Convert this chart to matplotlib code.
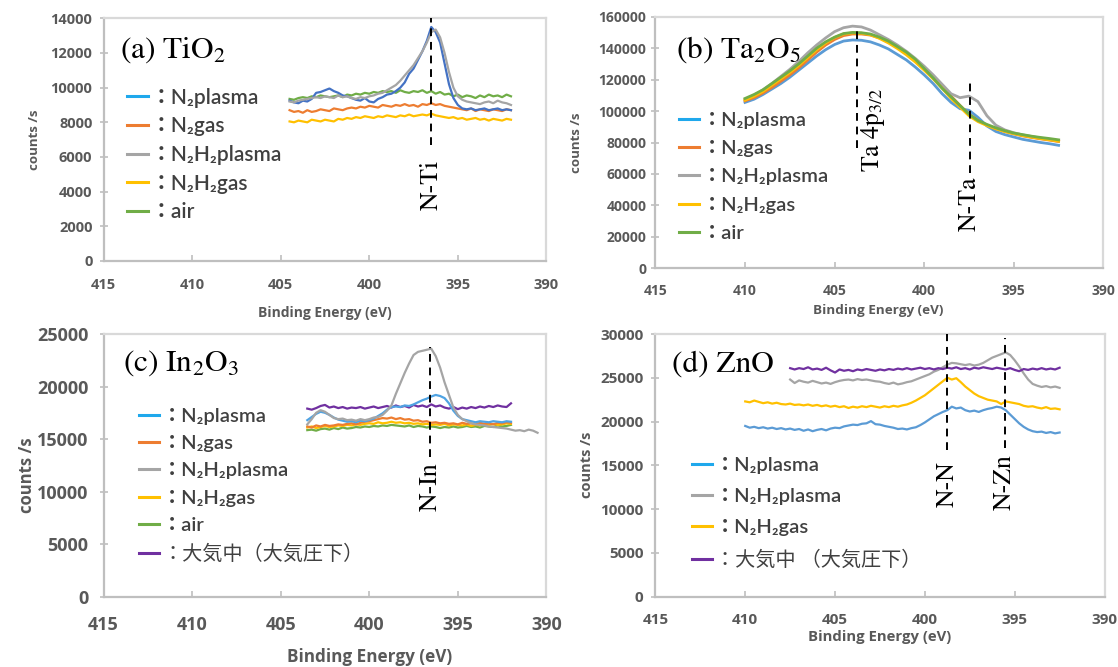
import numpy as np
import matplotlib
matplotlib.use("Agg")
import matplotlib.pyplot as plt
from matplotlib.lines import Line2D

plt.rcParams["mathtext.fontset"] = "stix"
SANS = ["Open Sans", "Noto Sans CJK JP", "DejaVu Sans"]
LEG_FONT = ["Lato", "Noto Sans CJK JP", "DejaVu Sans"]

W, H = 1118, 667

# colours (Excel defaults)
BLUE = "#5B9BD5"
ORANGE = "#ED7D31"
GRAY = "#A5A5A5"
YELLOW = "#FFC000"
GREEN = "#70AD47"
PURPLE = "#7030A0"
LEG_BLUE = "#1FA8EC"

labels = {
    "n2p": "：N₂plasma",
    "n2g": "：N₂gas",
    "nhp": "：N₂H₂plasma",
    "nhg": "：N₂H₂gas",
    "air": "：air",
    "atm_c": "：大気中（大気圧下）",
    "atm_d": "：大気中 （大気圧下）",
}

# ---------------- (a) TiO2, 404.5 -> 392.0 eV ----------------
a_range = (404.5, 392.0)
a_n2plasma = [9250, 9150, 9100, 9250, 9200, 9350, 9700, 9750, 9850, 9950, 9800,
              9700, 9550, 9500, 9400, 9300, 9250, 9400, 9200, 9150, 9350, 9450,
              9600, 9650, 9800, 10000, 10300, 10800, 11100, 11600, 12100, 12700,
              13500, 13200, 12600, 11400, 10200, 9400, 9000, 8800, 8750, 8800,
              8700, 8750, 8800, 8700, 8750, 8800, 8700, 8750, 8700]
a_n2gas = [8700, 8600, 8650, 8550, 8700, 8600, 8650, 8750, 8700, 8650, 8800, 8750,
           8700, 8800, 8850, 8800, 8900, 8850, 8950, 8900, 8850, 9000, 8950, 8900,
           9000, 8950, 9050, 8950, 9000, 8900, 9050, 9000, 9100, 9000, 9050, 8950,
           8900, 8850, 8800, 8750, 8700, 8800, 8650, 8750, 8700, 8650, 8750, 8700,
           8650, 8750, 8700]
a_n2h2plasma = [9200, 9150, 9250, 9300, 9350, 9400, 9450, 9400, 9500, 9450, 9400,
                9550, 9450, 9500, 9400, 9350, 9450, 9400, 9500, 9550, 9650, 9700,
                9850, 10000, 10150, 10400, 10700, 11000, 11300, 11700, 12100, 12600,
                13200, 13350, 12900, 12000, 10900, 10000, 9500, 9300, 9200, 9150,
                9100, 9050, 9150, 9200, 9100, 9250, 9150, 9100, 9000]
a_n2h2gas = [8050, 8000, 8100, 8050, 8000, 8150, 8100, 8050, 8150, 8100, 8050, 8200,
             8150, 8250, 8200, 8300, 8250, 8350, 8300, 8250, 8350, 8300, 8400, 8350,
             8300, 8400, 8350, 8450, 8350, 8400, 8450, 8400, 8500, 8400, 8350, 8300,
             8250, 8300, 8200, 8250, 8150, 8200, 8250, 8150, 8200, 8100, 8200, 8150,
             8100, 8200, 8150]
a_air = [9350, 9300, 9400, 9450, 9400, 9500, 9450, 9550, 9500, 9450, 9500, 9550,
         9450, 9600, 9550, 9650, 9600, 9700, 9650, 9750, 9700, 9800, 9750, 9800,
         9700, 9850, 9750, 9700, 9800, 9750, 9850, 9700, 9800, 9650, 9750, 9600,
         9650, 9500, 9600, 9450, 9550, 9500, 9400, 9550, 9450, 9600, 9500, 9550,
         9450, 9600, 9500]

# ---------------- (b) Ta2O5, 410.0 -> 392.5 eV ----------------
b_range = (410.0, 392.5)
b_n2plasma = [105500, 107500, 110500, 114000, 117500, 121500, 126000, 130500, 135000,
              139000, 142300, 144500, 145200, 145000, 144000, 142000, 139500, 136000,
              132500, 128000, 123000, 117500, 111000, 105500, 101500, 100500, 96000,
              90500, 87000, 85000, 83500, 82000, 81000, 80000, 79200, 78200]
b_n2gas = [106500, 108500, 111500, 115000, 119000, 123000, 127500, 132500, 137500,
           142000, 145500, 148000, 149000, 149000, 148300, 146500, 144000, 140800,
           137000, 132500, 127500, 122000, 116000, 109500, 103500, 98000, 94000,
           91000, 88800, 87000, 85500, 84200, 83200, 82300, 81500, 80600]
b_n2h2plasma = [107500, 110000, 113500, 117500, 122000, 126500, 131500, 137000, 142000,
                146500, 150500, 153000, 154000, 153500, 151500, 148500, 145500, 142000,
                138000, 133500, 128500, 123000, 117000, 111000, 108500, 109500, 106000,
                97000, 91000, 88000, 86200, 84800, 83800, 82800, 82000, 81200]
b_n2h2gas = [107000, 109500, 112500, 116500, 120500, 124500, 129000, 134000, 139000,
             143300, 146800, 149000, 149700, 149500, 148500, 146200, 143300, 139800,
             135800, 131200, 126000, 120500, 114500, 108000, 102500, 97000, 93300,
             90800, 88700, 87000, 85600, 84400, 83400, 82500, 81700, 80800]
b_air = [108000, 110500, 113500, 117500, 121500, 125500, 130000, 135000, 140000,
         144000, 147000, 149300, 150000, 149800, 149000, 147000, 144500, 141000,
         137500, 133000, 127000, 121000, 114500, 109000, 103500, 98000, 94000,
         91500, 89300, 87500, 86000, 85000, 84000, 83200, 82500, 81700]

# ---------------- (c) In2O3, 403.5 -> 392.0 eV ----------------
c_range = (403.5, 392.0)
c_n2plasma = [16800, 17100, 17400, 17600, 17500, 17300, 17050, 16850, 16750, 16650,
              16700, 16600, 16750, 16700, 16800, 16950, 17200, 17450, 17800, 18050,
              18100, 18050, 18200, 18150, 18300, 18500, 18700, 18850, 19050, 19200,
              19100, 18900, 18400, 17700, 17200, 16900, 16800, 16700, 16600, 16700,
              16650, 16600, 16700, 16650, 16600, 16700, 16650]
c_n2gas = [16200, 16100, 16300, 16200, 16350, 16250, 16300, 16400, 16350, 16450, 16500,
           16400, 16550, 16650, 16700, 16800, 16900, 17000, 16950, 17050, 16900, 17000,
           16850, 16900, 16750, 16800, 16650, 16700, 16550, 16600, 16500, 16550, 16450,
           16500, 16400, 16550, 16450, 16500, 16400, 16550, 16450, 16500, 16400, 16550,
           16500, 16600, 16550]
c_gray_range = (403.5, 390.5)
c_n2h2plasma = [16400, 16900, 17500, 17750, 17600, 17300, 17000, 16900, 16950, 16800,
                16850, 16750, 16900, 16800, 16900, 17050, 17100, 17300, 17700, 18200,
                19300, 20300, 21300, 22200, 23000, 23300, 23400, 23500, 23600, 22900,
                21800, 20400, 19200, 18000, 17300, 16900, 16700, 16500, 16400, 16350,
                16300, 16200, 16150, 16100, 16050, 16000, 15900, 15800, 15850, 15750,
                15900, 15800, 15600]
c_n2h2gas = [16100, 16200, 16050, 16150, 16250, 16150, 16200, 16300, 16250, 16350,
             16300, 16400, 16350, 16450, 16500, 16450, 16600, 16500, 16550, 16650,
             16550, 16600, 16500, 16550, 16450, 16500, 16400, 16450, 16350, 16400,
             16350, 16450, 16300, 16400, 16350, 16300, 16400, 16250, 16350, 16300,
             16400, 16350, 16450, 16350, 16400, 16500, 16450]
c_air = [15850, 15900, 15800, 15950, 16000, 15900, 16050, 15950, 16100, 16000, 16050,
         16150, 16100, 16200, 16150, 16250, 16200, 16300, 16250, 16350, 16300, 16250,
         16200, 16300, 16150, 16250, 16200, 16100, 16200, 16150, 16050, 16150, 16100,
         16200, 16100, 16150, 16250, 16150, 16200, 16100, 16250, 16200, 16150, 16300,
         16200, 16250, 16350]
c_atm = [17900, 17800, 17950, 18150, 18250, 18000, 18100, 17950, 18050, 17900, 18000,
         17950, 18050, 17900, 18000, 18100, 17950, 18050, 18150, 18000, 18200, 18050,
         18150, 18000, 18250, 18100, 18200, 18050, 18300, 18100, 18200, 18000, 17900,
         18050, 17850, 18000, 17900, 18050, 17950, 18100, 18000, 18150, 18050, 18200,
         18100, 18050, 18400]

# ---------------- (d) ZnO ----------------
d_range = (410.0, 392.5)
d_n2plasma = [19500, 19300, 19400, 19250, 19350, 19200, 19300, 19150, 19250, 19100,
              19200, 19050, 19150, 18950, 19100, 18900, 19050, 19150, 19000, 19200,
              19300, 19250, 19450, 19550, 19650, 19600, 19750, 19800, 20050, 19700,
              19650, 19500, 19400, 19300, 19150, 19200, 19100, 19250, 19350, 19600,
              19900, 20250, 20600, 20850, 21100, 21300, 21700, 21500, 21600, 21300,
              21150, 21250, 21100, 21300, 21450, 21550, 21700, 21600, 21300, 20800,
              20300, 19800, 19400, 19100, 18900, 18800, 18850, 18700, 18800, 18650,
              18750]
d_n2h2gas = [22300, 22200, 22400, 22250, 22100, 22200, 22050, 22150, 22000, 21950,
             22050, 21900, 21950, 21850, 21950, 21800, 21900, 21750, 21850, 21700,
             21800, 21650, 21750, 21550, 21700, 21600, 21750, 21650, 21800, 21700,
             21600, 21750, 21650, 21800, 21700, 21850, 21950, 22150, 22400, 22700,
             23000, 23400, 23800, 24200, 24600, 25000, 24800, 24950, 24500, 24000,
             23600, 23200, 22900, 22700, 22500, 22400, 22300, 22000, 22300, 22200,
             22100, 22000, 21800, 21700, 21750, 21600, 21500, 21650, 21450, 21500,
             21400]
d_short_range = (407.5, 392.5)
d_n2h2plasma = [24800, 24400, 24700, 24550, 24450, 24650, 24500, 24350, 24450, 24300,
                24500, 24650, 24750, 24800, 24700, 24850, 24750, 24800, 24700, 24600,
                24550, 24400, 24300, 24450, 24250, 24350, 24500, 24600, 24800, 25000,
                25200, 25400, 25700, 25900, 26200, 26500, 26700, 26650, 26550, 26450,
                26550, 26400, 26500, 26700, 27000, 27300, 27500, 27700, 27900, 27600,
                27000, 26300, 25500, 24800, 24300, 24100, 23950, 24050, 23900, 24000,
                23850]
d_atm = [26100, 25950, 26100, 26000, 26200, 25950, 26050, 25900, 26150, 25850, 25600,
         25950, 25800, 25900, 25750, 25950, 25850, 26000, 25900, 25800, 25950, 25850,
         26000, 25900, 26050, 25950, 26100, 25950, 26050, 26150, 26000, 26100, 25950,
         26100, 26000, 26150, 26050, 26200, 26000, 26100, 25950, 26150, 26050, 26200,
         26100, 26000, 26150, 26050, 25950, 26100, 25900, 25750, 26000, 25900, 26050,
         25950, 26100, 25950, 26050, 25950, 26150]

# peak marker energies (eV)
ti_peak = 396.5
ta4p = 403.75
nta = 397.45
nin = 396.55
nn = 398.75
nzn = 395.55


def energies(rng, vals):
    return np.linspace(rng[0], rng[1], len(vals))


def px_axes(fig, x0, y0, x1, y1):
    return fig.add_axes([x0 / W, 1 - y1 / H, (x1 - x0) / W, (y1 - y0) / H])


def style(ax, ymax, ystep, tick_fs, xpad, ypad, ylab_fs, ylab_xy, xlab_fs, xlab_xy):
    ax.set_xlim(415, 390)
    ax.set_xticks(np.arange(415, 389, -5))
    ax.set_ylim(0, ymax)
    ax.set_yticks(np.arange(0, ymax + 1, ystep))
    for s in ax.spines.values():
        s.set_color("#D9D9D9")
        s.set_linewidth(1.6)
    ax.spines["left"].set_color("#BFBFBF")
    ax.spines["bottom"].set_color("#BFBFBF")
    ax.tick_params(axis="x", direction="in", length=4.5, width=1.2, color="#BFBFBF",
                   pad=xpad, labelsize=tick_fs, labelcolor="#595959")
    ax.tick_params(axis="y", direction="inout", length=6, width=1.2, color="#BFBFBF",
                   pad=ypad, labelsize=tick_fs, labelcolor="#595959")
    for t in ax.get_xticklabels() + ax.get_yticklabels():
        t.set_fontfamily(SANS)
        t.set_fontweight("bold")
    ax.set_ylabel("counts /s", fontsize=ylab_fs, color="#595959", fontweight="bold",
                  family=SANS)
    ax.yaxis.set_label_coords(*ylab_xy)
    ax.yaxis.label.set_va("center")
    ax.set_xlabel("Binding Energy (eV)", fontsize=xlab_fs, color="#595959",
                  fontweight="bold", family=SANS)
    ax.xaxis.set_label_coords(*xlab_xy)
    ax.xaxis.label.set_va("center")


def add_legend(fig, ax, entries, x, y, fs, spacing):
    handles = [Line2D([], [], color=c, lw=2.2) for c, _ in entries]
    leg = ax.legend(handles, [l for _, l in entries], loc="upper left",
                    bbox_to_anchor=(x / W, 1 - y / H), bbox_transform=fig.transFigure,
                    frameon=False, borderpad=0, borderaxespad=0, handlelength=1.0,
                    handletextpad=0.15, labelspacing=spacing,
                    prop={"family": LEG_FONT, "size": fs, "weight": "semibold"})
    for t in leg.get_texts():
        t.set_color("#404040")
        if "大気" in t.get_text():
            t.set_fontweight("normal")


def peak_line(ax, x, y0, y1):
    ax.vlines(x, y0, y1, colors="black", linestyles=(0, (4, 3)), lw=1.4, zorder=5)


def peak_text(ax, x, y, s, fs):
    ax.text(x, y, s, rotation=90, ha="center", va="center", fontsize=fs,
            family="STIXGeneral", color="black")


def title(ax, x, y, s, fs):
    ax.text(x, y, s, transform=ax.figure.transFigure, fontsize=fs, family="STIXGeneral",
            ha="left", va="center", color="black")


fig = plt.figure(figsize=(W / 100, H / 100), dpi=100)
lw = 1.6

# (a)
ax = px_axes(fig, 103.6, 18.3, 546.4, 261)
for vals, col in [(a_air, GREEN), (a_n2gas, ORANGE), (a_n2h2gas, YELLOW),
                  (a_n2plasma, "#4472C4"), (a_n2h2plasma, GRAY)]:
    ax.plot(energies(a_range, vals), vals, color=col, lw=lw)
style(ax, 14000, 2000, 10.5, 12.5, 5, 9.5, (-0.157, 0.5), 10, (0.5, -0.214))
peak_line(ax, ti_peak, 6700, 14000)
peak_text(ax, ti_peak, 4400, "N-Ti", 18.5)
title(ax, 120 / W, 1 - 50 / H, "(a) TiO$_2$", 22.5)
add_legend(fig, ax, [(LEG_BLUE, labels["n2p"]), (ORANGE, labels["n2g"]),
                     (GRAY, labels["nhp"]), (YELLOW, labels["nhg"]),
                     (GREEN, labels["air"])], 127, 87.5, 15, 0.42)

# (b)
ax = px_axes(fig, 655.4, 16.7, 1103.4, 268.3)
for vals, col in [(b_n2plasma, BLUE), (b_n2gas, ORANGE), (b_n2h2plasma, GRAY),
                  (b_n2h2gas, YELLOW), (b_air, GREEN)]:
    ax.plot(energies(b_range, vals), vals, color=col, lw=2.0)
style(ax, 160000, 20000, 10, 11, 3.5, 9.5, (-0.177, 0.498), 9.7, (0.498, -0.166))
peak_line(ax, ta4p, 76500, 154000)
peak_line(ax, nta, 60600, 118400)
peak_text(ax, 402.85, 88000, "Ta 4p$_{3/2}$", 18.5)
peak_text(ax, nta, 41000, "N-Ta", 18.5)
title(ax, 676 / W, 1 - 50 / H, "(b) Ta$_2$O$_5$", 22.5)
add_legend(fig, ax, [(LEG_BLUE, labels["n2p"]), (ORANGE, labels["n2g"]),
                     (GRAY, labels["nhp"]), (YELLOW, labels["nhg"]),
                     (GREEN, labels["air"])], 679, 111.5, 14.5, 0.56)

# (c)
ax = px_axes(fig, 103.6, 334, 546.4, 596.7)
for vals, col, rng in [(c_air, GREEN, c_range), (c_n2h2gas, YELLOW, c_range),
                       (c_n2gas, ORANGE, c_range), (c_atm, PURPLE, c_range),
                       (c_n2plasma, "#4FA3E3", c_range),
                       (c_n2h2plasma, GRAY, c_gray_range)]:
    ax.plot(energies(rng, vals), vals, color=col, lw=lw)
style(ax, 25000, 5000, 13, 14, 8, 12, (-0.173, 0.463), 12.3, (0.6, -0.228))
peak_line(ax, nin, 13300, 23800)
peak_text(ax, nin, 10500, "N-In", 18.5)
title(ax, 123 / W, 1 - 363 / H, "(c) In$_2$O$_3$", 22.5)
add_legend(fig, ax, [(LEG_BLUE, labels["n2p"]), (ORANGE, labels["n2g"]),
                     (GRAY, labels["nhp"]), (YELLOW, labels["nhg"]),
                     (GREEN, labels["air"]), (PURPLE, labels["atm_c"])],
           139, 408, 14.5, 0.5)

# (d)
ax = px_axes(fig, 655.4, 334, 1104.5, 596.7)
for vals, col, rng in [(d_n2plasma, BLUE, d_range), (d_n2h2gas, YELLOW, d_range),
                       (d_n2h2plasma, GRAY, d_short_range), (d_atm, PURPLE, d_short_range)]:
    ax.plot(energies(rng, vals), vals, color=col, lw=lw)
style(ax, 30000, 5000, 11, 11.5, 5.5, 10.5, (-0.153, 0.501), 10.7, (0.499, -0.152))
peak_line(ax, nn, 16750, 30000)
peak_line(ax, nzn, 17000, 29500)
peak_text(ax, nn, 12900, "N-N", 18.5)
peak_text(ax, nzn, 13100, "N-Zn", 18.5)
title(ax, 672 / W, 1 - 365 / H, "(d) ZnO", 22.5)
add_legend(fig, ax, [(LEG_BLUE, labels["n2p"]), (GRAY, labels["nhp"]),
                     (YELLOW, labels["nhg"]), (PURPLE, labels["atm_d"])],
           692, 457, 14.5, 0.68)

fig.savefig("out.png", dpi=100)
